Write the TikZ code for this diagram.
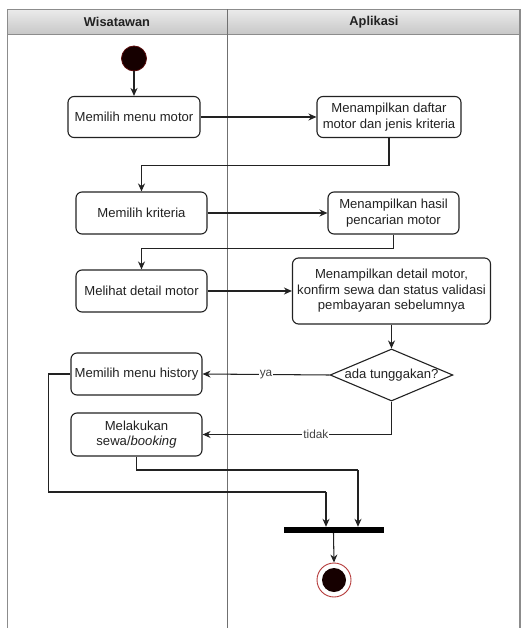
\documentclass[tikz,border=0pt]{standalone}
\usepackage{fontspec}
\setmainfont{Liberation Sans}
\usetikzlibrary{arrows.meta,shapes.geometric,calc}
\definecolor{ink}{HTML}{222222}
\definecolor{lane}{HTML}{8C8C8C}
\definecolor{dotfill}{HTML}{160000}
\definecolor{dotedge}{HTML}{5A0A0A}
\definecolor{ringred}{HTML}{B53A3A}
\begin{document}
\begin{tikzpicture}[x=1pt,y=-1pt,
  act/.style={draw=ink,line width=1.1pt,rounded corners=6pt,fill=white,
    align=center,inner sep=2pt,text=ink,
    font=\fontsize{13.1}{15.5}\selectfont},
  decide/.style={diamond,draw=ink,line width=1.1pt,fill=white,aspect=2.36,
    inner sep=0pt,text=ink,font=\fontsize{13.1}{15.5}\selectfont},
  flow/.style={draw=ink,line width=1.05pt,-{Stealth[length=8pt,width=7pt]}},
  wire/.style={draw=ink,line width=1.05pt},
  guard/.style={fill=white,inner sep=1pt,text=ink!85,
    font=\fontsize{11.8}{13}\selectfont},
  lanehead/.style={font=\bfseries\fontsize{12.8}{15}\selectfont,text=ink}]
\useasboundingbox (0,0) rectangle (521,628);
\fill[white] (0,0) rectangle (521,628);

% swimlane frame with shaded header
\shade[top color=black!8,bottom color=black!22] (7.5,9.5) rectangle (520,34.5);
\draw[lane,line width=1.4pt] (7.5,640) -- (7.5,9.5) -- (520,9.5) -- (520,640);
\draw[lane,line width=1.4pt] (7.5,34.5) -- (520,34.5);
\draw[lane!80!black,line width=1.2pt] (227.5,9.5) -- (227.5,640);
\node[lanehead] (hw) at (117,22) {Wisatawan};
\node[lanehead] (ha) at (374,22) {Aplikasi};

% start and end markers
\node[circle,draw=dotedge,fill=dotfill,line width=0.8pt,minimum size=25pt,inner sep=0pt] (start) at (134,58.5) {};
\node[circle,draw=ringred,line width=0.9pt,fill=white,minimum size=34pt,inner sep=0pt] (endring) at (334,580) {};
\node[circle,fill=dotfill,minimum size=24pt,inner sep=0pt] (end) at (334,580) {};

% activities
\node[act,minimum width=132pt,minimum height=41pt] (a1) at (134,117) {Memilih menu motor};
\node[act,minimum width=144pt,minimum height=41pt] (a2) at (389,117) {Menampilkan daftar\\motor dan jenis kriteria};
\node[act,minimum width=131pt,minimum height=42pt] (a3) at (141.5,213) {Memilih kriteria};
\node[act,minimum width=131pt,minimum height=42pt] (a4) at (393.5,213) {Menampilkan hasil\\pencarian motor};
\node[act,minimum width=131pt,minimum height=42pt] (a5) at (141.5,291) {Melihat detail motor};
\node[act,minimum width=198pt,minimum height=66pt] (a6) at (391.5,291) {Menampilkan detail motor,\\konfirm sewa dan status validasi\\pembayaran sebelumnya};
\node[decide,minimum width=118pt,minimum height=50pt] (d) at (391.5,375) {ada tunggakan?};
\node[act,minimum width=131pt,minimum height=42pt] (a7) at (136.5,374) {Memilih menu history};
\node[act,minimum width=131pt,minimum height=43pt] (a8) at (136.5,434.5) {Melakukan\\sewa/\textit{booking}};

% join bar
\node[fill=black,minimum width=100pt,minimum height=6pt,inner sep=0pt] (bar) at (333.5,530) {};
\coordinate (j1) at (326,492);
\coordinate (j2) at (358,470);

% control flow
\draw[flow] (start) -- (a1);
\draw[flow] (a1.east) -- (a2.west);
\draw[flow] (a2.south) -- ++(0,27.5) -| (a3.north);
\draw[flow] (a3.east) -- (a4.west);
\draw[flow] (a4.south) -- ++(0,14) -| (a5.north);
\draw[flow] (a5.east) -- (a6.west);
\draw[flow] (a6.south) -- (d.north);
\draw[flow] (d.west) -- node[guard,pos=0.5] {ya} (a7.east);
\draw[flow] (d.south) |- node[guard,pos=0.7] {tidak} (a8.east);
\draw[wire] (a7.west) -- ++(-22,0) |- (j1);
\draw[flow] (j1) -- (j1 |- bar.north);
\draw[wire] (a8.south) |- (j2);
\draw[flow] (j2) -- (j2 |- bar.north);
\draw[flow] (bar.south) -- (endring.north);
\end{tikzpicture}
\end{document}
